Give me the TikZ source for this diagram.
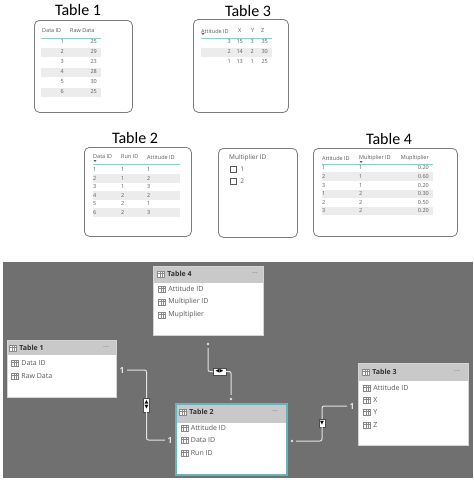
\documentclass[tikz,border=0pt]{standalone}
\usepackage{fontspec}
\setmainfont{Open Sans}
\newfontfamily\captionfont{Carlito}
\newfontfamily\symbolfont{DejaVu Sans}
\usetikzlibrary{positioning}
\usetikzlibrary{calc}
\definecolor{canvas}{HTML}{707070}
\definecolor{boxline}{HTML}{7C7C7C}
\definecolor{celltext}{HTML}{595959}
\definecolor{rowshade}{HTML}{ECECEC}
\definecolor{sortline}{HTML}{8CCFC3}
\definecolor{headgray}{HTML}{C9C9C9}
\definecolor{cardline}{HTML}{D4D4D4}
\definecolor{cardteal}{HTML}{62B6C2}
\definecolor{icongray}{HTML}{8A8A8A}
\definecolor{linkgray}{HTML}{E2E2E2}

\tikzset{
  visual/.style={draw=boxline, line width=0.8pt, rounded corners=5pt, fill=white,
    anchor=north west, inner sep=0pt},
  heading/.style={font=\captionfont\fontsize{16}{16}\selectfont, inner sep=0pt},
  cell/.style={font=\fontsize{5.5}{6}\selectfont, text=celltext, inner sep=0pt},
  sortbar/.style={draw=sortline, line width=1pt},
  sorttip/.style={fill=celltext},
  tickbox/.style={draw=celltext, line width=0.4pt, minimum size=6pt, inner sep=0pt},
  card/.style={fill=white, draw=cardline, line width=0.8pt, anchor=north west, inner sep=0pt,
    path picture={\fill[headgray] (path picture bounding box.north west)
      rectangle ([yshift=-#1]path picture bounding box.north east);}},
  cardtitle/.style={font=\bfseries\fontsize{7}{8}\selectfont, text=black!80, inner sep=0pt},
  field/.style={font=\fontsize{7}{8}\selectfont, text=black!65, inner sep=0pt},
  menu/.style={font=\bfseries\fontsize{7}{8}\selectfont, text=black!40, inner sep=0pt},
  gridicon/.style={draw=icongray, fill=white, line width=0.4pt, minimum width=7pt,
    minimum height=6pt, inner sep=0pt,
    path picture={\draw[icongray, line width=0.3pt]
      ($(path picture bounding box.north west)!0.3!(path picture bounding box.south west)$)
        -- ($(path picture bounding box.north east)!0.3!(path picture bounding box.south east)$)
      ($(path picture bounding box.north west)!0.35!(path picture bounding box.north east)$)
        -- ($(path picture bounding box.south west)!0.35!(path picture bounding box.south east)$)
      ($(path picture bounding box.north west)!0.68!(path picture bounding box.north east)$)
        -- ($(path picture bounding box.south west)!0.68!(path picture bounding box.south east)$);}},
  link/.style={draw=linkgray, line width=1pt, rounded corners=2pt},
  cardinal/.style={font=\bfseries\fontsize{8.5}{9}\selectfont, text=linkgray, inner sep=2.5pt},
  manyend/.style={circle, minimum size=8pt, inner sep=0pt,
    path picture={\fill[linkgray] (path picture bounding box.center) circle (1.4pt);}},
  toggle/.style={fill=white, draw=black!70, line width=0.3pt, inner sep=0.3pt,
    font=\symbolfont\fontsize{5}{5.2}\selectfont, align=center}
}

\begin{document}
\begin{tikzpicture}[x=1pt,y=-1pt]
\useasboundingbox (0,0) rectangle (474,483);

% report visuals
\node[visual, minimum width=98pt, minimum height=92pt] (vis1) at (34,20) {};
\node[heading] (head1) at (78,10) {Table 1};
\foreach \r in {52,72,92} \fill[rowshade] (41,\r-4.5) rectangle (101,\r+4.5);
\node[cell, anchor=west] (vis1a) at (42,31) {Data ID};
\node[cell, anchor=west] (vis1b) at (70,31) {Raw Data};
\draw[sortbar] (41,38) -- (101,38);
\foreach \i/\v in {1/25,2/29,3/23,4/28,5/30,6/25} {
  \node[cell, anchor=east] (vis1r\i) at (64,32+10*\i) {\i};
  \node[cell, anchor=east] (vis1v\i) at (97,32+10*\i) {\v};
}

\node[visual, minimum width=95pt, minimum height=93pt] (vis3) at (193,19) {};
\node[heading] (head3) at (248,11) {Table 3};
\fill[rowshade] (201,47.5) rectangle (272,56.5);
\node[cell, anchor=west] (vis3a) at (201,31) {Attitude ID};
\node[cell, anchor=west] (vis3x) at (238,31) {X};
\node[cell, anchor=west] (vis3y) at (251,31) {Y};
\node[cell, anchor=west] (vis3z) at (261,31) {Z};
\fill[sorttip] (201.5,33) -- (204.5,33) -- (203,35) -- cycle;
\draw[sortbar] (201,38) -- (272,38);
\foreach \a/\x/\y/\z [count=\i] in {3/15/3/35,2/14/2/30,1/13/1/25} {
  \node[cell, anchor=east] (vis3r\i) at (231,32+10*\i) {\a};
  \node[cell, anchor=east] at (243,32+10*\i) {\x};
  \node[cell, anchor=east] at (254,32+10*\i) {\y};
  \node[cell, anchor=east] at (268,32+10*\i) {\z};
}

\node[visual, minimum width=107pt, minimum height=89pt] (vis2) at (84,147) {};
\node[heading] (head2) at (135,138) {Table 2};
\foreach \r in {178.5,195.5,212.5} \fill[rowshade] (93,\r-4.25) rectangle (180,\r+4.25);
\node[cell, anchor=west] (vis2a) at (93,157) {Data ID};
\node[cell, anchor=west] (vis2b) at (121,157) {Run ID};
\node[cell, anchor=west] (vis2c) at (147,157) {Attitude ID};
\fill[sorttip] (93.5,160) -- (96.5,160) -- (95,162) -- cycle;
\draw[sortbar] (93,164) -- (180,164);
\foreach \d/\u/\a in {1/1/1,2/1/2,3/1/3,4/2/2,5/2/1,6/2/3} {
  \node[cell, anchor=west] (vis2r\d) at (93,161.5+8.5*\d) {\d};
  \node[cell, anchor=west] at (121,161.5+8.5*\d) {\u};
  \node[cell, anchor=west] at (147,161.5+8.5*\d) {\a};
}

\node[visual, minimum width=79pt, minimum height=89pt] (slicer) at (218,148) {};
\node[cell, font=\fontsize{6.5}{7}\selectfont, anchor=west] (slicerhead) at (229,158) {Multiplier ID};
\foreach \y/\v in {169/1,181/2} {
  \node[tickbox] (tick\v) at (233,\y) {};
  \node[cell, font=\fontsize{6.5}{7}\selectfont, right=4pt of tick\v] (tick\v label) {\v};
}

\node[visual, minimum width=144pt, minimum height=88pt] (vis4) at (313,148) {};
\node[heading] (head4) at (389,139) {Table 4};
\foreach \r in {176.6,193.8,211} \fill[rowshade] (322,\r-4.3) rectangle (433,\r+4.3);
\node[cell, anchor=west] (vis4a) at (322,158) {Attitude ID};
\node[cell, anchor=west] (vis4b) at (359,158) {Multiplier ID};
\node[cell, anchor=east] (vis4c) at (429,158) {Mupltiplier};
\fill[sorttip] (359.5,161) -- (362.5,161) -- (361,163) -- cycle;
\draw[sortbar] (322,164) -- (433,164);
\foreach \a/\m/\p [count=\i] in {1/1/0.20,2/1/0.60,3/1/0.20,1/2/0.30,2/2/0.50,3/2/0.20} {
  \node[cell, anchor=west] (vis4r\i) at (322,159.4+8.6*\i) {\a};
  \node[cell, anchor=west] at (359,159.4+8.6*\i) {\m};
  \node[cell, anchor=east] at (429,159.4+8.6*\i) {\p};
}

% model view
\fill[canvas] (3,262) rectangle (473,478);

\node[card=17pt, minimum width=110pt, minimum height=69pt] (card4) at (153,266) {};
\node[gridicon] (card4ico) at (161,274) {};
\node[cardtitle, right=2.5pt of card4ico] (card4name) {Table 4};
\node[menu] (card4menu) at (255,274) {···};
\foreach \y/\f in {289/Attitude ID,302/Multiplier ID,315/Mupltiplier} {
  \node[gridicon] (card4f) at (162,\y) {};
  \node[field, right=2.5pt of card4f] {\f};
}

\node[card=15pt, minimum width=109pt, minimum height=57pt] (card1) at (7,340) {};
\node[gridicon] (card1ico) at (13,348) {};
\node[cardtitle, right=2.5pt of card1ico] (card1name) {Table 1};
\node[menu] (card1menu) at (106,348) {···};
\foreach \y/\f in {363/Data ID,376/Raw Data} {
  \node[gridicon] (card1f) at (15,\y) {};
  \node[field, right=2.5pt of card1f] {\f};
}

\node[card=18pt, minimum width=110pt, minimum height=82pt] (card3) at (358,363) {};
\node[gridicon] (card3ico) at (366,372) {};
\node[cardtitle, right=2.5pt of card3ico] (card3name) {Table 3};
\node[menu] (card3menu) at (457,372) {···};
\foreach \y/\f in {388/Attitude ID,400/X,412/Y,425/Z} {
  \node[gridicon] (card3f) at (367,\y) {};
  \node[field, right=2.5pt of card3f] {\f};
}

\node[card=19pt, draw=cardteal, line width=1.5pt, minimum width=111pt, minimum height=71pt] (card2) at (175,403) {};
\node[gridicon] (card2ico) at (183,412) {};
\node[cardtitle, right=2.5pt of card2ico] (card2name) {Table 2};
\node[menu] (card2menu) at (275,412) {···};
\foreach \y/\f in {428/Attitude ID,440/Data ID,453/Run ID} {
  \node[gridicon] (card2f) at (184.5,\y) {};
  \node[field, right=2.5pt of card2f] {\f};
}

% relationships
\node[cardinal] (one1a) at (122,370) {1};
\node[cardinal] (one1b) at (170,440) {1};
\node[toggle, minimum width=6pt, minimum height=14pt] (tog1) at (146.5,405) {▲\\▼};
\draw[link] (one1a) -| (tog1) |- (one1b);

\node[manyend] (many4) at (208,344) {};
\node[manyend] (many2a) at (231,399) {};
\node[toggle, minimum width=13pt, minimum height=7pt] (tog2) at (219.5,371.5) {◀▶};
\draw[link] (many4) |- (tog2) -| (many2a);

\node[manyend] (many2b) at (292,441) {};
\node[cardinal] (one3) at (352,406) {1};
\node[toggle, minimum width=6pt, minimum height=8pt] (tog3) at (322,423) {▼};
\draw[link] (many2b) -| (tog3) |- (one3);
\end{tikzpicture}
\end{document}
